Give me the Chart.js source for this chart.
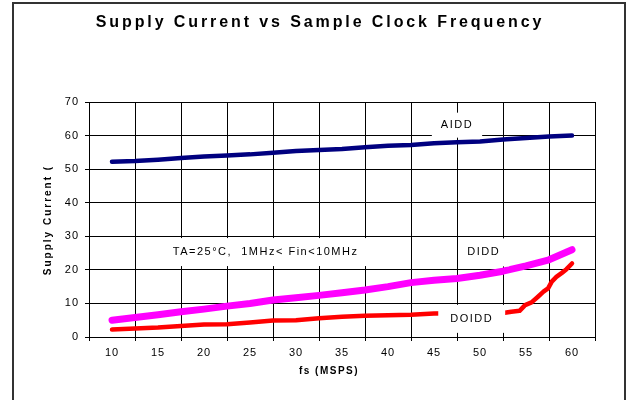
<!DOCTYPE html>
<html><head><meta charset="utf-8">
<script src="https://cdn.jsdelivr.net/npm/chart.js@4.4.1/dist/chart.umd.min.js"></script>
<style>
html,body{margin:0;padding:0;background:#fff;overflow:hidden}
#wrap{position:relative;width:627px;height:400px}
#frame{position:absolute;left:12px;top:2px;width:610px;height:460px;border:2px solid #333;pointer-events:none}
canvas{position:absolute;left:0;top:0}
</style></head><body>
<div id="wrap"><canvas id="c" width="627" height="400"></canvas><div id="frame"></div></div>
<script>
// ---- data ----
const fsMSPS  = [10,12.5,15,17.5,20,22.5,25,27.5,30,32.5,35,37.5,40,42.5,45,47.5,50,52.5,55,57.5,60];
const aiddMA  = [52.2,52.4,52.8,53.3,53.8,54.1,54.4,54.9,55.4,55.7,56.0,56.5,57.0,57.2,57.7,58.0,58.2,58.8,59.3,59.7,60.0];
const diddMA  = [5.0,5.8,6.6,7.5,8.3,9.2,10.0,11.0,11.7,12.4,13.2,14.0,15.0,16.2,16.9,17.4,18.4,19.6,21.2,23.0,26.0];
const doiddFs = [10,12.5,15,17.5,20,22.5,25,27.5,30,32.5,35,37.5,40,42.5,45,47.5,50,52.7,53.4,54.3,54.9,55.6,56.3,56.9,57.4,57.8,58.3,58.9,59.4,60];
const doiddMA = [2.2,2.5,2.8,3.3,3.7,3.8,4.3,4.9,5.0,5.6,6.0,6.3,6.5,6.6,7.0,7.1,7.2,7.2,7.5,7.8,9.5,10.3,12.0,13.5,14.5,16.5,17.9,19.1,20.2,21.9];
const xTickValues = [10,15,20,25,30,35,40,45,50,55,60];
const xTickLabels = ['10','15','20','25','30','35','40','45','50','55','60'];
const yTickLabels = ['0','10','20','30','40','50','60','70'];
const seriesNames = ['AIDD','DIDD','DOIDD'];
const titleText = 'Supply Current vs Sample Clock Frequency';
const xTitle = 'fs (MSPS)';
const yTitle = 'Supply Current (';
const noteText = 'TA=25°C,  1MHz< Fin<10MHz';

const pts = (xs, ys) => xs.map((x, i) => ({x, y: ys[i]}));

const textPlugin = {
  id: 'texts',
  beforeDraw(chart) { chart.ctx.letterSpacing = '1px'; },
  afterDraw(chart) {
    const ctx = chart.ctx, xs = chart.scales.x, ys = chart.scales.y;
    ctx.save();
    ctx.fillStyle = '#000';
    ctx.textAlign = 'center';
    ctx.textBaseline = 'middle';
    // title
    ctx.letterSpacing = '2.9px';
    ctx.font = 'bold 16px "Liberation Sans", Arial, sans-serif';
    ctx.fillText(titleText, 320, 23);
    // x title
    ctx.letterSpacing = '1.5px';
    ctx.font = 'bold 10px "Liberation Sans", Arial, sans-serif';
    ctx.fillText(xTitle, 329, 371);
    // y title
    ctx.letterSpacing = '2px';
    ctx.save();
    ctx.translate(48, 220);
    ctx.rotate(-Math.PI / 2);
    ctx.fillText(yTitle, 0, 0);
    ctx.restore();
    // in-plot labels with white boxes
    ctx.font = '11px "Liberation Sans", Arial, sans-serif';
    ctx.letterSpacing = '1.5px';
    const lab = (t, vx, vy, padX, padY) => {
      const cx = xs.getPixelForValue(vx), cy = ys.getPixelForValue(vy);
      const w = ctx.measureText(t).width;
      ctx.fillStyle = '#fff';
      ctx.fillRect(cx - w / 2 - padX, cy - padY, w + 2 * padX, 2 * padY);
      ctx.fillStyle = '#000';
      ctx.fillText(t, cx, cy);
    };
    lab(seriesNames[0], 47.5, 63.1, 9, 12.5);
    lab(seriesNames[1], 50.4, 25.2, 9, 14);
    lab(seriesNames[2], 49.1, 5.4, 12, 14);
    lab(noteText, 26.7, 25.3, 8, 14);
    ctx.restore();
  }
};

new Chart(document.getElementById('c'), {
  type: 'line',
  data: {
    datasets: [
      {label: seriesNames[0], data: pts(fsMSPS, aiddMA), borderColor: '#000080', borderWidth: 4.5},
      {label: seriesNames[1], data: pts(fsMSPS, diddMA), borderColor: '#FF00FF', borderWidth: 7},
      {label: seriesNames[2], data: pts(doiddFs, doiddMA), borderColor: '#FF0000', borderWidth: 4.5}
    ]
  },
  options: {
    responsive: false,
    animation: false,
    events: [],
    layout: {padding: {left: 20, right: 32, top: 102, bottom: 20}},
    elements: {
      point: {radius: 0},
      line: {tension: 0, borderCapStyle: 'round', borderJoinStyle: 'round', fill: false}
    },
    plugins: {legend: {display: false}, title: {display: false}, tooltip: {enabled: false}},
    scales: {
      x: {
        type: 'linear', min: 7.5, max: 62.5,
        afterBuildTicks: s => { s.ticks = xTickValues.map(v => ({value: v})); },
        afterFit: s => { s.height = 43; },
        grid: {color: '#000', lineWidth: 1, offset: true, tickLength: 4, tickColor: '#000'},
        border: {color: '#000', width: 1},
        ticks: {autoSkip: false, maxRotation: 0, padding: 5, color: '#000',
          font: {family: '"Liberation Sans", Arial, sans-serif', size: 11},
          callback: (v, i) => xTickLabels[i]}
      },
      y: {
        min: 0, max: 70,
        afterBuildTicks: s => { s.ticks = yTickLabels.map(t => ({value: Number(t)})); },
        afterFit: s => { s.width = 69; },
        grid: {color: '#000', lineWidth: 1, tickLength: 4, tickColor: '#000'},
        border: {color: '#000', width: 1},
        ticks: {padding: 6, color: '#000',
          font: {family: '"Liberation Sans", Arial, sans-serif', size: 11},
          callback: (v, i) => yTickLabels[i]}
      }
    }
  },
  plugins: [textPlugin]
});
</script>
</body></html>
